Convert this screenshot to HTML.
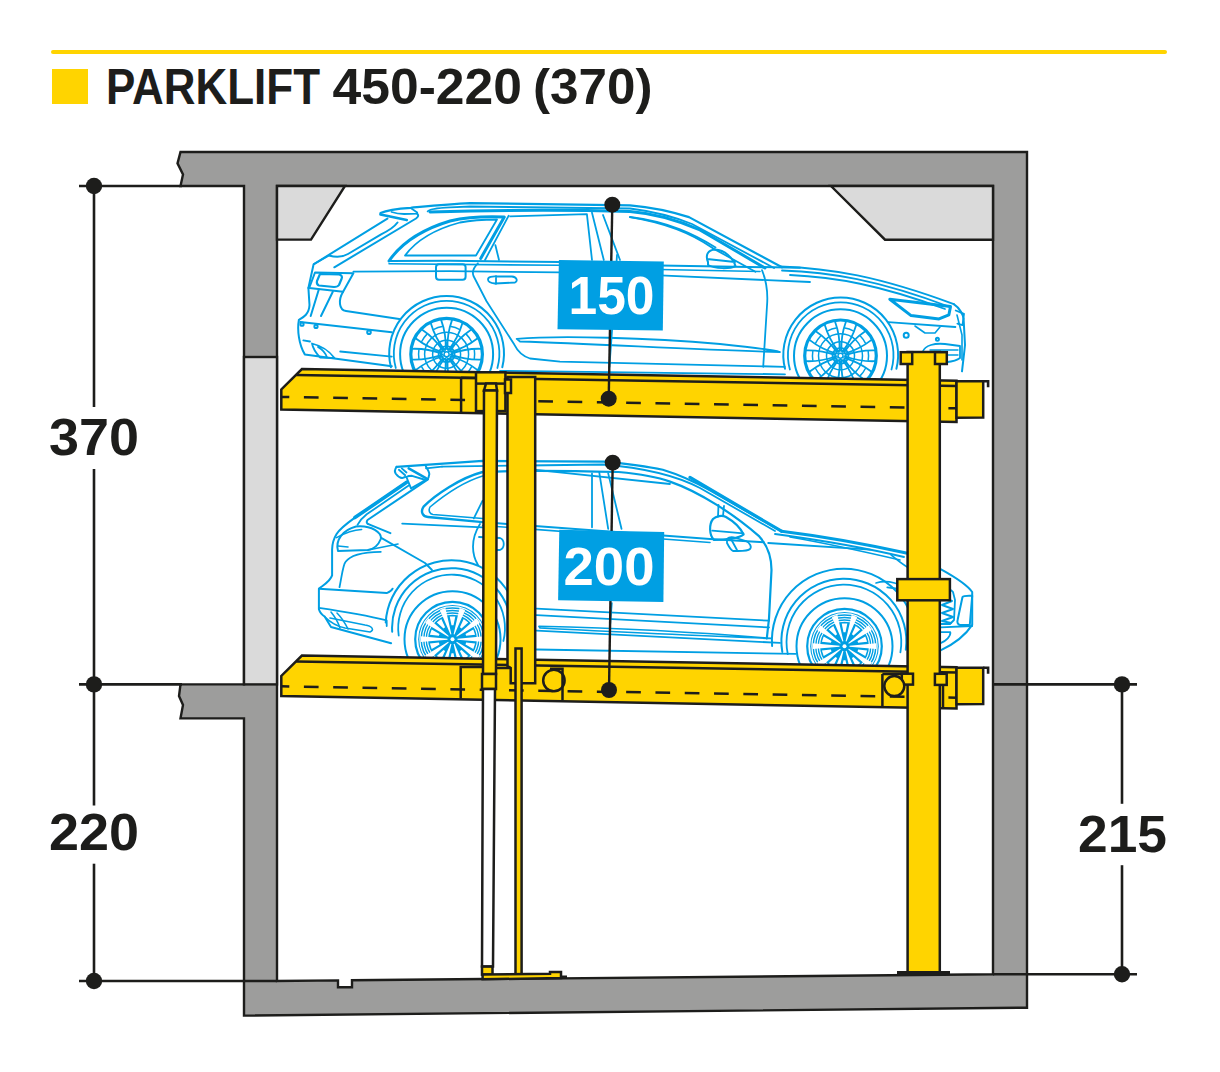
<!DOCTYPE html>
<html><head><meta charset="utf-8">
<style>
html,body{margin:0;padding:0;background:#fff;}
body{width:1220px;height:1072px;overflow:hidden;}
svg{display:block;}
text{font-family:"Liberation Sans",sans-serif;font-weight:bold;}
</style></head>
<body>
<svg width="1220" height="1072" viewBox="0 0 1220 1072">
<rect width="1220" height="1072" fill="#fff"/>
<!-- title -->
<line x1="53" y1="52" x2="1165" y2="52" stroke="#ffd400" stroke-width="4" stroke-linecap="round"/>
<rect x="52" y="69" width="36" height="35" fill="#ffd400"/>
<g fill="#1d1d1b" font-size="50">
<text x="106" y="104" textLength="214" lengthAdjust="spacingAndGlyphs">PARKLIFT</text>
<text x="332.5" y="104" textLength="189.5" lengthAdjust="spacingAndGlyphs">450-220</text>
<text x="533" y="104" textLength="119.5" lengthAdjust="spacingAndGlyphs">(370)</text>
</g>

<!-- concrete -->
<g id="concrete" stroke="#1d1d1b" stroke-width="2.4" stroke-linejoin="miter">
<path fill="#9d9d9c" d="M180.5,152 L1027,152 L1027,1007.7 L244,1015.6 L244,718.4 L180.5,718.4 L183,705 L179,696 L180.5,684.4 L244,684.4 L244,186 L180.5,186 L183,174.4 L177.5,163.4 Z"/>
<path fill="#ffffff" d="M277,186 L993,186 L993,974.3 L352,980.3 L352,987.3 L338,987.3 L338,980.4 L277,981 Z"/>
<rect x="244" y="357" width="33" height="327.4" fill="#dadada"/>
<path fill="#dadada" d="M277,186 L345,186 L311,239.6 L277,239.6 Z"/>
<path fill="#dadada" d="M831,186 L993,186 L993,239.7 L885,239.7 Z"/>
</g>

<!-- dimension lines -->
<g id="dims" stroke="#1d1d1b" stroke-width="2.6" fill="none">
<line x1="94" y1="186" x2="94" y2="407"/>
<line x1="94" y1="469" x2="94" y2="805.5"/>
<line x1="94" y1="863.7" x2="94" y2="981"/>
<line x1="79" y1="186" x2="182" y2="186"/>
<line x1="79" y1="684.4" x2="182" y2="684.4"/>
<line x1="79" y1="981" x2="277" y2="981"/>
<line x1="1122" y1="684.4" x2="1122" y2="803.8"/>
<line x1="1122" y1="865.2" x2="1122" y2="974.3"/>
<line x1="993" y1="684.4" x2="1137" y2="684.4"/>
<line x1="993" y1="974.3" x2="1137" y2="974.3"/>
</g>
<g fill="#1d1d1b">
<circle cx="94" cy="186" r="8.2"/>
<circle cx="94" cy="684.4" r="8.2"/>
<circle cx="94" cy="981" r="8.2"/>
<circle cx="1122" cy="684.4" r="8.2"/>
<circle cx="1122" cy="974.3" r="8.2"/>
<text x="49" y="455" font-size="52" textLength="90" lengthAdjust="spacingAndGlyphs">370</text>
<text x="49" y="850" font-size="52" textLength="90" lengthAdjust="spacingAndGlyphs">220</text>
<text x="1078" y="852" font-size="52" textLength="89" lengthAdjust="spacingAndGlyphs">215</text>
</g>

<!-- CARS -->
<g id="cars" fill="none" stroke="#009fe3" stroke-linecap="round" stroke-linejoin="round">
<path d="M380.5,213 C386,210.5 395,208.8 410.7,207.8 C430,206 450,204 470,203.1 L630,205.3 C650,207 670,211 689,217.1 L782,267.3" stroke-width="2.2" />
<path d="M427.7,211.4 C429,209 435,208 450,207.3 L470,206.5 L630,208.5 C650,211 672,216 692,224 L774,268" stroke-width="1.8" />
<path d="M430,212 C500,210 560,209.5 630,211.5 C655,213.5 675,219 700,230 L765,268" stroke-width="3.0" />
<path d="M630,217.1 C660,222 690,232 712.6,248.1 L755.4,271.7" stroke-width="1.8" />
<path d="M380.5,214.5 L406.7,220" stroke-width="2.8" />
<path d="M391.6,212 C396,213.5 400,214 404.1,214 L417.2,213.7 M410.7,208.1 L417.2,212.5" stroke-width="1.8" />
<path d="M387.4,218.6 L313.6,264.3 L308.4,288" stroke-width="2.0" />
<path d="M397.5,222.5 C395,226 390,230 381.1,234.3 L348,254 C342,257.5 334,257 329,255.5 L314,264" stroke-width="2.0" />
<path d="M417.2,213.7 C419,215.5 418,217 416,218.5 L334.3,267.3" stroke-width="2.0" />
<path d="M315,272.5 L353.4,273.3 L343.1,291.7 L309.2,288 Z" stroke-width="2.0" />
<path d="M320,274 L339,274.5 C342,275 342.5,277 341.5,279 L339,285 C338,286.5 336,287 334,287 L319,285.5 C317,285 316.5,283 317,281 Z" stroke-width="2.2" />
<path d="M318.8,289.5 L310.7,316 M332.8,291.7 L321,316" stroke-width="2.0" />
<path d="M343.1,291.7 C338,300 339,310 346,311 L399.2,319" stroke-width="2.0" />
<path d="M308.4,288 L309.5,305 C309,314 304,317 298.9,319.8 C297,330 299,345 304.8,354.4 L391.8,366.2" stroke-width="2.0" />
<path d="M300.3,322 L391.8,332.3" stroke-width="2.0" />
<path d="M303.3,340.4 L310,341.5" stroke-width="1.8" />
<path d="M312,343.5 C322,346 330,352 334.5,358 L320,357.5 C316,353 313,349 312,343.5 Z M318,347 C323,350 326,354 327,357.5" stroke-width="1.8" />
<path d="M340.2,351.5 L391.8,356.6" stroke-width="1.8" />
<circle cx="302.0" cy="324.2" r="1.6" stroke-width="2"/>
<circle cx="316.0" cy="326.4" r="1.6" stroke-width="2"/>
<circle cx="369.0" cy="332.3" r="1.8" stroke-width="2"/>
<path d="M353.4,271.7 L450,271.2 L560,272.4 L660,275.4 L810,282" stroke-width="1.8" />
<path d="M389,261 L450,260.8 L560,262.1 L660,265.5 L800,267.7" stroke-width="2.0" />
<path d="M389,263.8 L560,265.3 L660,269.5 L760,271.5" stroke-width="1.6" />
<path d="M389,261 C400,245 420,230 450,221 C470,216.5 490,216.5 504.3,217.1 L480.7,258.4" stroke-width="3.0" />
<path d="M405,255.5 C415,242 432,230 460,222.5 C475,219.5 490,219.5 497,219.5 L476,255.5 Z" stroke-width="1.8" />
<path d="M485,260 L508.7,215.7 M495.4,245.2 L499,260" stroke-width="1.8" />
<path d="M510.2,216.4 L586.9,214.2 L592,260" stroke-width="1.8" />
<path d="M592,212.7 L603.8,260 M603,215 L620,260" stroke-width="1.8" />
<path d="M630,217 C670,222 695,235 715.6,247.4" stroke-width="1.8" />
<path d="M708,262 C705,255 708,250 715,249.6 C725,250 733,258 735.5,266 C730,269 715,269 708,265 Z M707,259 L735,262" stroke-width="2.0" />
<rect x="436" y="264.3" width="29.6" height="15.5" rx="3" stroke-width="2"/>
<path d="M488,279.5 C488,277 492,276 497,276.5 L512,276.5 C517,277 518,281 515,282.5 L495,283.5 C490,283 488,282 488,279.5 Z M496,276 L496,284" stroke-width="1.8" />
<path d="M477.9,263.3 C473,268 472,272 473.5,276 L486.4,301 L514.3,344.6 C518,352 522,356 530,358.5 L560,361.6 L784.8,366.8" stroke-width="1.8" />
<path d="M617,255 L612,331 L609.4,366.8" stroke-width="1.8" />
<path d="M762,270.2 C768,285 767.5,300 767,305.8 L763.2,366.8" stroke-width="1.8" />
<path d="M516.7,338.9 C560,335 650,338 720,344 C750,347 770,349 780,352 C700,350 600,344 520,341.5 Z" stroke-width="1.8" />
<path d="M500,370.8 L785,374.3" stroke-width="1.8" />
<path d="M780,266.4 C830,268 878.4,276.2 953.8,304.1" stroke-width="2.0" />
<path d="M782,270.5 C830,272 878,280 950,307" stroke-width="1.8" />
<path d="M790,275 C835,277 880,285 945,309" stroke-width="1.8" />
<path d="M889.8,299.2 L950.5,306.6 L948.9,314.8 L939,318.9 L911.1,315.6 Z" stroke-width="3.0" />
<path d="M955.7,310.5 L964,313.8 L962.5,325.2 L957.4,323.6" stroke-width="1.8" />
<path d="M953.8,304.1 C960,308 963.6,316 963.6,318.9 L965,345 C964,355 963,362 962,371.3" stroke-width="2.0" />
<path d="M957,315 L962,335 L962,360" stroke-width="1.6" />
<path d="M888.2,322.1 L955.4,327" stroke-width="1.8" />
<path d="M915,326 L925,333 L935,333 L940,327" stroke-width="1.6" />
<circle cx="906.2" cy="335.2" r="2.5" stroke-width="2"/>
<circle cx="937.4" cy="339.3" r="1.5" stroke-width="2"/>
<path d="M922.6,352 C925,345 935,343 945,344 L960,346 L960,358 C955,362 940,364 925,362 C922,360 921,356 922.6,352 Z" stroke-width="1.8" />
<path d="M930,350 L958,350 M932,355 L958,355" stroke-width="1.4" />
<path d="M390.9,367.3 A57.4,57.4 0 1 1 502.3,367.3" stroke-width="2.0"/>
<path d="M395.8,368.0 A52.8,52.8 0 1 1 497.4,368.0" stroke-width="1.8"/>
<path d="M785.0,368.8 A57.4,57.4 0 1 1 896.4,368.8" stroke-width="2.0"/>
<path d="M789.9,369.5 A52.8,52.8 0 1 1 891.5,369.5" stroke-width="1.8"/>
<circle cx="446.6" cy="354.2" r="35.8" stroke-width="3.2"/>
<circle cx="446.6" cy="354.2" r="46.5" stroke-width="2.0"/>
<circle cx="446.6" cy="354.2" r="8.0" stroke-width="1.8"/>
<circle cx="446.6" cy="354.2" r="14.0" stroke-width="1.5"/>
<circle cx="446.6" cy="354.2" r="22.0" stroke-width="1.5"/>
<circle cx="446.6" cy="354.2" r="2.5" stroke-width="1.4"/>
<circle cx="449.5" cy="350.2" r="1.5" stroke-width="1.3"/>
<circle cx="451.4" cy="355.7" r="1.5" stroke-width="1.3"/>
<circle cx="446.6" cy="359.2" r="1.5" stroke-width="1.3"/>
<circle cx="441.8" cy="355.7" r="1.5" stroke-width="1.3"/>
<circle cx="443.7" cy="350.2" r="1.5" stroke-width="1.3"/>
<path d="M445.7,349.3 Q446.3,334.2 441.2,320.1 M447.5,349.3 Q446.9,334.2 452.0,320.1 M448.8,349.7 Q458.1,337.8 462.3,323.5 M450.2,350.7 Q458.6,338.2 471.0,329.8 M451.0,351.9 Q465.5,347.7 477.3,338.5 M451.6,353.5 Q465.7,348.4 480.7,348.8 M451.6,354.9 Q465.7,360.0 480.7,359.6 M451.0,356.5 Q465.5,360.7 477.3,369.9 M450.2,357.7 Q458.6,370.2 471.0,378.6 M448.8,358.7 Q458.1,370.6 462.3,384.9 M447.5,359.1 Q446.9,374.2 452.0,388.3 M445.7,359.1 Q446.3,374.2 441.2,388.3 M444.4,358.7 Q435.1,370.6 430.9,384.9 M443.0,357.7 Q434.6,370.2 422.2,378.6 M442.2,356.5 Q427.7,360.7 415.9,369.9 M441.6,354.9 Q427.5,360.0 412.5,359.6 M441.6,353.5 Q427.5,348.4 412.5,348.8 M442.2,351.9 Q427.7,347.7 415.9,338.5 M443.0,350.7 Q434.6,338.2 422.2,329.8 M444.4,349.7 Q435.1,337.8 430.9,323.5 " stroke-width="1.8" />
<path d="M451.0,326.5 A28.0,28.0 0 0 1 459.3,329.3" stroke-width="1.5"/>
<path d="M466.4,334.4 A28.0,28.0 0 0 1 471.5,341.5" stroke-width="1.5"/>
<path d="M474.3,349.8 A28.0,28.0 0 0 1 474.3,358.6" stroke-width="1.5"/>
<path d="M471.5,366.9 A28.0,28.0 0 0 1 466.4,374.0" stroke-width="1.5"/>
<path d="M459.3,379.1 A28.0,28.0 0 0 1 451.0,381.9" stroke-width="1.5"/>
<path d="M442.2,381.9 A28.0,28.0 0 0 1 433.9,379.1" stroke-width="1.5"/>
<path d="M426.8,374.0 A28.0,28.0 0 0 1 421.7,366.9" stroke-width="1.5"/>
<path d="M418.9,358.6 A28.0,28.0 0 0 1 418.9,349.8" stroke-width="1.5"/>
<path d="M421.7,341.5 A28.0,28.0 0 0 1 426.8,334.4" stroke-width="1.5"/>
<path d="M433.9,329.3 A28.0,28.0 0 0 1 442.2,326.5" stroke-width="1.5"/>
<circle cx="840.5" cy="355.8" r="35.8" stroke-width="3.2"/>
<circle cx="840.5" cy="355.8" r="46.5" stroke-width="2.0"/>
<circle cx="840.5" cy="355.8" r="8.0" stroke-width="1.8"/>
<circle cx="840.5" cy="355.8" r="14.0" stroke-width="1.5"/>
<circle cx="840.5" cy="355.8" r="22.0" stroke-width="1.5"/>
<circle cx="840.5" cy="355.8" r="2.5" stroke-width="1.4"/>
<circle cx="843.4" cy="351.8" r="1.5" stroke-width="1.3"/>
<circle cx="845.3" cy="357.3" r="1.5" stroke-width="1.3"/>
<circle cx="840.5" cy="360.8" r="1.5" stroke-width="1.3"/>
<circle cx="835.7" cy="357.3" r="1.5" stroke-width="1.3"/>
<circle cx="837.6" cy="351.8" r="1.5" stroke-width="1.3"/>
<path d="M839.6,350.9 Q840.2,335.8 835.1,321.7 M841.4,350.9 Q840.8,335.8 845.9,321.7 M842.7,351.3 Q852.0,339.4 856.2,325.1 M844.1,352.3 Q852.5,339.8 864.9,331.4 M844.9,353.5 Q859.4,349.3 871.2,340.1 M845.5,355.1 Q859.6,350.0 874.6,350.4 M845.5,356.5 Q859.6,361.6 874.6,361.2 M844.9,358.1 Q859.4,362.3 871.2,371.5 M844.1,359.3 Q852.5,371.8 864.9,380.2 M842.7,360.3 Q852.0,372.2 856.2,386.5 M841.4,360.7 Q840.8,375.8 845.9,389.9 M839.6,360.7 Q840.2,375.8 835.1,389.9 M838.3,360.3 Q829.0,372.2 824.8,386.5 M836.9,359.3 Q828.5,371.8 816.1,380.2 M836.1,358.1 Q821.6,362.3 809.8,371.5 M835.5,356.5 Q821.4,361.6 806.4,361.2 M835.5,355.1 Q821.4,350.0 806.4,350.4 M836.1,353.5 Q821.6,349.3 809.8,340.1 M836.9,352.3 Q828.5,339.8 816.1,331.4 M838.3,351.3 Q829.0,339.4 824.8,325.1 " stroke-width="1.8" />
<path d="M844.9,328.1 A28.0,28.0 0 0 1 853.2,330.9" stroke-width="1.5"/>
<path d="M860.3,336.0 A28.0,28.0 0 0 1 865.4,343.1" stroke-width="1.5"/>
<path d="M868.2,351.4 A28.0,28.0 0 0 1 868.2,360.2" stroke-width="1.5"/>
<path d="M865.4,368.5 A28.0,28.0 0 0 1 860.3,375.6" stroke-width="1.5"/>
<path d="M853.2,380.7 A28.0,28.0 0 0 1 844.9,383.5" stroke-width="1.5"/>
<path d="M836.1,383.5 A28.0,28.0 0 0 1 827.8,380.7" stroke-width="1.5"/>
<path d="M820.7,375.6 A28.0,28.0 0 0 1 815.6,368.5" stroke-width="1.5"/>
<path d="M812.8,360.2 A28.0,28.0 0 0 1 812.8,351.4" stroke-width="1.5"/>
<path d="M815.6,343.1 A28.0,28.0 0 0 1 820.7,336.0" stroke-width="1.5"/>
<path d="M827.8,330.9 A28.0,28.0 0 0 1 836.1,328.1" stroke-width="1.5"/>
<path d="M396.6,466.9 L482.6,460.9 L603.8,461.6 C630,464 650,467 662.8,469.8 C680,475 695,482 710,490.4 L781.5,531.2" stroke-width="2.2" />
<path d="M442,466.6 L603,464.5 C640,467.5 675,475 700,488 L775,531" stroke-width="1.8" />
<path d="M690,477.4 L781.5,531.2" stroke-width="3.2" />
<path d="M482.6,472 C520,470 560,470.5 618.5,472 C640,474 660,478 670,481.6 C700,492 735,515 759.3,536.4 C767,545 771.5,556 771.5,570 L769,618.5 L766.8,638.4" stroke-width="2.2" />
<path d="M535.9,469.8 L670,484" stroke-width="1.8" />
<path d="M396.6,466.9 C395,469 394.5,472 396,474 C398,476.5 400,478 402,478.1 L405.2,477" stroke-width="2.0" />
<path d="M398.9,469.8 L405.2,475.2 M401.8,468.4 L406.5,472.5" stroke-width="1.8" />
<path d="M408.7,468.4 L425.9,478.1" stroke-width="2.6" />
<path d="M425.9,466.6 C428,470 429.3,472 429.3,474.1 C429,477 428,479 427,479.8" stroke-width="2.0" />
<path d="M406.4,477 L411,488.4 L425.9,479.8 M406.4,477 C408,476 410,475.8 412,475.8 L424,479.5" stroke-width="1.9" />
<path d="M426,468.4 L442,466.6" stroke-width="1.8" />
<path d="M406.7,482.2 L354.9,517.6" stroke-width="3.6" />
<path d="M408.7,485.5 L366.7,514.3 C362,518 359,522 357.5,524.8" stroke-width="1.8" />
<path d="M428,479.3 L367.5,520 C366,522 367,524 369,524.3 L390.4,533.2" stroke-width="2.0" />
<path d="M406.7,482.2 L354.9,517.6 C346,524 339,530 336.6,534 C333.5,539 332.2,545 332.1,549.4 L332.1,575.4 C330,582 322,586 318.9,588.7 L318.9,609.3 C320,613 322,615 324.8,616.7 L331,627 L391.1,643.3" stroke-width="2.0" />
<path d="M338,551 C335,540 343,530 356,526.5 C372,525 382,533 380.8,539 C378,546 374,549 368,550 Z" stroke-width="2.0" />
<path d="M336.6,537.6 C345,533 352,530 361.6,529.5 M338,546 L348,547 M368,550 L398,544" stroke-width="1.6" />
<path d="M380.8,537.6 L425,563 L432,570" stroke-width="1.8" />
<path d="M339.5,587.2 C342,575 343,565 345.4,562.1 C350,555 365,552 380.8,551.8" stroke-width="1.8" />
<path d="M482.6,472 C460,478 435,495 423.6,506.6 C420,512 423,517 428,517 L482.6,522.1" stroke-width="2.4" />
<path d="M482.6,476 C463,482 442,497 430,507 C428,511 430,514 433,514.5 L482.6,518.5" stroke-width="1.6" />
<path d="M402.2,523.6 L482.6,527.3" stroke-width="1.8" />
<path d="M482.6,500.7 L473.8,518.4" stroke-width="1.8" />
<path d="M318.9,588.7 L386.7,593.1 C390,592 392,590 392.6,588.7" stroke-width="2.0" />
<path d="M318.9,607.9 C340,611 365,615 386.7,620.4 L386.7,626" stroke-width="1.8" />
<path d="M325,617 C330,622 335,626 345,628 L370,632 C375,630 372,626 365,625 L330,618" stroke-width="1.6" />
<path d="M331,612 C336,618 338,622 340,628 M337,613 C342,618 345,623 348,629" stroke-width="1.6" />
<path d="M592,473.4 L592,527.3 M599.3,472.7 L608.2,528.8 M608.2,473.4 L621.5,528.8" stroke-width="1.8" />
<path d="M482.6,522.1 L710,539 L763.8,542.3" stroke-width="2.0" />
<path d="M482.6,525.5 L710,542.5" stroke-width="1.6" />
<path d="M768.2,543 L870,549.7" stroke-width="1.8" />
<path d="M714,540 C709,535 709,524 713,519 C716,516 722,515 726,517 C733,521 740,527 743.6,534.5 C740,538 725,540 714,540 Z" stroke-width="2.2" />
<path d="M712.3,530.7 L743.4,533.4 M718,516.5 L718.5,505 M723,516 L724,506" stroke-width="1.8" />
<path d="M727,539 C729,537 733,537 736,538 L746,541 C750,543 752,547 750,549 C748,551 743,551 738,551 L733,551 C731,550 729,547 727,543 Z M731,539 L737,550" stroke-width="1.8" />
<path d="M781.5,531.2 C820,536 870,545 906.2,553" stroke-width="3.0" />
<path d="M775,534 C820,540 870,549 904,557" stroke-width="1.8" />
<path d="M790,537 C830,544 870,553 900,560" stroke-width="1.6" />
<path d="M876,583 C885,580 895,582 905,587 M890.8,554.7 C897,560 902,564 907.2,567" stroke-width="1.7" />
<path d="M906.2,553 L940.6,569.1 C955,577 968,586 972.2,592 L972.2,624.9 C965,636 952,645 940.6,650.4" stroke-width="2.0" />
<path d="M962.5,597 C963.5,595.5 966,595.5 972.2,595.8 L969.8,624.9 L960,624.9 C957.6,624.5 957,622 957.6,620 Z" stroke-width="2.0" />
<path d="M940.6,627.3 L972.2,626 M940.6,632.2 L950.3,632.2 C951,636 946,641 940.6,643.1" stroke-width="1.8" />
<path d="M941,595 C946,590 950,588 953,592 L955,600 L954,620 L950,624 L941,624" stroke-width="1.8" />
<path d="M941,597 L952,601 L942,605 L953,609 L942,613 L953,617 L942,621 L951,623" stroke-width="2.0" />
<path d="M887.3,587.3 L895.8,588.5" stroke-width="1.8" />
<path d="M536.6,608.6 L769,620.7" stroke-width="1.8" />
<path d="M536.6,615.2 L769,627.4" stroke-width="1.8" />
<path d="M538.9,626.3 C650,629 720,634 771.2,638.4 C700,636 620,632 540,628 Z" stroke-width="1.6" />
<path d="M536.6,630.7 L780,642.9" stroke-width="1.8" />
<path d="M536.6,649.5 L795.5,653.9" stroke-width="1.8" />
<path d="M611.9,603 L609.7,631.8" stroke-width="1.6" />
<path d="M480,524 C470,540 472,555 478,565" stroke-width="1.8" />
<path d="M479,537 L500,538 C505,540 505,548 500,550 L484,550" stroke-width="1.8" />
<path d="M385.7,622.5 A66.0,66.0 0 1 1 516.2,639.7" stroke-width="2.0"/>
<path d="M392.2,631.7 A59.5,59.5 0 1 1 509.8,639.9" stroke-width="2.0"/>
<path d="M398.7,635.5 A53.4,53.4 0 1 1 503.4,641.0" stroke-width="1.8"/>
<path d="M772.1,646.0 A72.0,72.0 0 1 1 915.7,646.0" stroke-width="2.0"/>
<path d="M782.3,651.9 A62.5,62.5 0 1 1 905.8,649.7" stroke-width="2.0"/>
<path d="M787.8,654.2 A57.4,57.4 0 1 1 900.4,652.3" stroke-width="1.8"/>
<circle cx="452.5" cy="639.2" r="48.0" stroke-width="2.0"/>
<circle cx="452.5" cy="639.2" r="37.3" stroke-width="2.2"/>
<circle cx="452.5" cy="639.2" r="34.3" fill="#009fe3" stroke="none"/>
<circle cx="452.5" cy="639.2" r="32.6" fill="none" stroke="#fff" stroke-width="1.2"/>
<path d="M457.5,638.7 L484.3,636.3 L484.3,642.1 L457.5,639.7 Z M466.1,642.6 L475.1,643.6 L473.3,648.9 L465.5,644.4 Z M456.8,641.7 L479.9,655.5 L476.5,660.2 L456.3,642.5 Z M461.5,649.9 L468.2,656.0 L463.7,659.3 L459.9,651.1 Z M454.5,643.8 L465.1,668.5 L459.6,670.3 L453.6,644.1 Z M453.5,653.2 L455.3,662.0 L449.7,662.0 L451.5,653.2 Z M451.4,644.1 L445.4,670.3 L439.9,668.5 L450.5,643.8 Z M445.1,651.1 L441.3,659.3 L436.8,656.0 L443.5,649.9 Z M448.7,642.5 L428.5,660.2 L425.1,655.5 L448.2,641.7 Z M439.5,644.4 L431.7,648.9 L429.9,643.6 L438.9,642.6 Z M447.5,639.7 L420.7,642.1 L420.7,636.3 L447.5,638.7 Z M438.9,635.8 L429.9,634.8 L431.7,629.5 L439.5,634.0 Z M448.2,636.7 L425.1,622.9 L428.5,618.2 L448.7,635.9 Z M443.5,628.5 L436.8,622.4 L441.3,619.1 L445.1,627.3 Z M450.5,634.6 L439.9,609.9 L445.4,608.1 L451.4,634.3 Z M451.5,625.2 L449.7,616.4 L455.3,616.4 L453.5,625.2 Z M453.6,634.3 L459.6,608.1 L465.1,609.9 L454.5,634.6 Z M459.9,627.3 L463.7,619.1 L468.2,622.4 L461.5,628.5 Z M456.3,635.9 L476.5,618.2 L479.9,622.9 L456.8,636.7 Z M465.5,634.0 L473.3,629.5 L475.1,634.8 L466.1,635.8 Z " fill="#fff" stroke="none"/>
<circle cx="452.5" cy="639.2" r="30" fill="none" stroke="#fff" stroke-width="1.1"/>
<circle cx="452.5" cy="639.2" r="27.5" fill="none" stroke="#fff" stroke-width="1.1"/>
<circle cx="452.5" cy="639.2" r="25" fill="none" stroke="#fff" stroke-width="1.1"/>
<circle cx="452.5" cy="639.2" r="2.0" fill="#fff" stroke="none"/>
<circle cx="844.5" cy="646.2" r="48.0" stroke-width="2.0"/>
<circle cx="844.5" cy="646.2" r="37.3" stroke-width="2.2"/>
<circle cx="844.5" cy="646.2" r="34.3" fill="#009fe3" stroke="none"/>
<circle cx="844.5" cy="646.2" r="32.6" fill="none" stroke="#fff" stroke-width="1.2"/>
<path d="M849.5,645.7 L876.3,643.3 L876.3,649.1 L849.5,646.7 Z M858.1,649.6 L867.1,650.6 L865.3,655.9 L857.5,651.4 Z M848.8,648.7 L871.9,662.5 L868.5,667.2 L848.3,649.5 Z M853.5,656.9 L860.2,663.0 L855.7,666.3 L851.9,658.1 Z M846.5,650.8 L857.1,675.5 L851.6,677.3 L845.6,651.1 Z M845.5,660.2 L847.3,669.0 L841.7,669.0 L843.5,660.2 Z M843.4,651.1 L837.4,677.3 L831.9,675.5 L842.5,650.8 Z M837.1,658.1 L833.3,666.3 L828.8,663.0 L835.5,656.9 Z M840.7,649.5 L820.5,667.2 L817.1,662.5 L840.2,648.7 Z M831.5,651.4 L823.7,655.9 L821.9,650.6 L830.9,649.6 Z M839.5,646.7 L812.7,649.1 L812.7,643.3 L839.5,645.7 Z M830.9,642.8 L821.9,641.8 L823.7,636.5 L831.5,641.0 Z M840.2,643.7 L817.1,629.9 L820.5,625.2 L840.7,642.9 Z M835.5,635.5 L828.8,629.4 L833.3,626.1 L837.1,634.3 Z M842.5,641.6 L831.9,616.9 L837.4,615.1 L843.4,641.3 Z M843.5,632.2 L841.7,623.4 L847.3,623.4 L845.5,632.2 Z M845.6,641.3 L851.6,615.1 L857.1,616.9 L846.5,641.6 Z M851.9,634.3 L855.7,626.1 L860.2,629.4 L853.5,635.5 Z M848.3,642.9 L868.5,625.2 L871.9,629.9 L848.8,643.7 Z M857.5,641.0 L865.3,636.5 L867.1,641.8 L858.1,642.8 Z " fill="#fff" stroke="none"/>
<circle cx="844.5" cy="646.2" r="30" fill="none" stroke="#fff" stroke-width="1.1"/>
<circle cx="844.5" cy="646.2" r="27.5" fill="none" stroke="#fff" stroke-width="1.1"/>
<circle cx="844.5" cy="646.2" r="25" fill="none" stroke="#fff" stroke-width="1.1"/>
<circle cx="844.5" cy="646.2" r="2.0" fill="#fff" stroke="none"/>
</g>

<!-- LIFT -->
<g id="lift" stroke="#1d1d1b" stroke-width="2.5" stroke-linejoin="miter">
<path fill="#ffd400" d="M301.9,369 L956.5,380.8 L956.5,422 L281.3,409.5 L281.3,389.4 Z"/>
<path fill="none" d="M296.3,375 L956.5,386.1"/>
<path fill="#ffd400" d="M956.5,381.2 L983.2,381.2 L983.2,417.5 L956.5,417.8 Z"/>
<path fill="none" stroke-width="2.6" d="M983.2,381.2 L988.1,381.2 L988.1,387.3"/>
<path fill="none" stroke-width="2.5" stroke-dasharray="14.7 14.6" stroke-dashoffset="6.7" d="M281.3,396.9 L956.5,408.3"/>
<path fill="#ffd400" d="M301.9,655.5 L956.5,667.3 L956.5,708.5 L281.3,696.0 L281.3,675.9 Z"/>
<path fill="none" d="M296.3,661.5 L956.5,672.6"/>
<path fill="#ffd400" d="M956.5,667.7 L983.2,667.7 L983.2,704.0 L956.5,704.3 Z"/>
<path fill="none" stroke-width="2.6" d="M983.2,667.7 L988.1,667.7 L988.1,673.8"/>
<path fill="none" stroke-width="2.5" stroke-dasharray="14.7 14.6" stroke-dashoffset="6.7" d="M281.3,686.3 L956.5,697.7"/>
<path fill="none" d="M461.1,377.5 L461.1,413.3 M461.1,377.8 L476,378"/>
<rect x="476" y="372.3" width="29.4" height="38.8" fill="#ffd400"/>
<path fill="none" d="M476,383.6 L505.4,383.6"/>
<path fill="#ffd400" d="M507.5,377 L535.2,377 L535.2,683.2 L510.7,683.2 L510.7,668 L507.5,666 Z"/>
<rect x="505" y="379.5" width="6" height="13.5" fill="#ffd400"/>
<path fill="#ffd400" d="M486,383.6 L496,383.6 L497,390.5 L484,390.5 Z"/>
<path fill="#ffd400" d="M484,390.5 L497,390.5 L496,674 L483,674 Z"/>
<rect x="482" y="674" width="14" height="15" fill="#ffd400"/>
<path fill="#fff" d="M483,689 L495,689 L493,966.6 L482,966.6 Z"/>
<rect x="482" y="966.6" width="10.5" height="8" fill="#ffd400"/>
<path fill="none" d="M460.7,698.5 L460.7,667 L482,667 M495,668 L510.7,668"/>
<circle cx="553.9" cy="680.5" r="10.7" fill="#ffd400"/>
<path fill="none" d="M550,668.8 L562.5,668.8 L562.5,700"/>
<rect x="515.5" y="648.5" width="6.1" height="326.5" fill="#ffd400"/>
<path fill="#ffd400" d="M482.6,974.5 L550,973.8 L550,972 L561,972 L561,978 L482.6,979.3 Z"/>
<path fill="#1d1d1b" stroke="none" d="M561,975.5 L567,975.5 L567,978.5 L561,978.5 Z"/>
<rect x="907.6" y="352" width="32.2" height="621" fill="#ffd400"/>
<rect x="900.7" y="352.2" width="11.5" height="11.8" fill="#ffd400"/>
<rect x="935" y="352.2" width="11.8" height="11.8" fill="#ffd400"/>
<rect x="897.3" y="579.1" width="52.6" height="21.2" fill="#ffd400"/>
<rect x="897.5" y="971.5" width="52" height="3" fill="#1d1d1b" stroke-width="1"/>
<path fill="none" d="M882.4,674 L882.4,707.5 M882.4,674 L901.8,674"/>
<rect x="901.8" y="673.7" width="11.2" height="10.9" fill="#ffd400"/>
<circle cx="894.3" cy="686.1" r="10" fill="#ffd400"/>
<rect x="934.9" y="673.8" width="11.8" height="11.1" fill="#ffd400"/>
<path fill="none" d="M943,685 L943,708"/>
</g>

<!-- labels -->
<g id="labels">
<g stroke="#1d1d1b" stroke-width="2.4"><line x1="612.3" y1="204.7" x2="608.7" y2="398.7"/><line x1="612.7" y1="462.7" x2="609" y2="690"/></g>
<g fill="#1d1d1b"><circle cx="612.3" cy="204.7" r="8"/><circle cx="608.7" cy="398.7" r="8"/><circle cx="612.7" cy="462.7" r="8"/><circle cx="609" cy="690" r="8"/></g>
<path fill="#009fe3" d="M558.9,259.9 L663.8,261.6 L662.8,330.6 L557.5,329.2 Z"/>
<path fill="#009fe3" d="M559.3,529.8 L664.2,532 L663.4,602 L558.1,600.3 Z"/>
<text x="568.5" y="313.8" font-size="53" fill="#fff" textLength="86" lengthAdjust="spacingAndGlyphs">150</text>
<text x="563.5" y="584.7" font-size="53" fill="#fff" textLength="91" lengthAdjust="spacingAndGlyphs">200</text>
</g>
</svg>
</body></html>
